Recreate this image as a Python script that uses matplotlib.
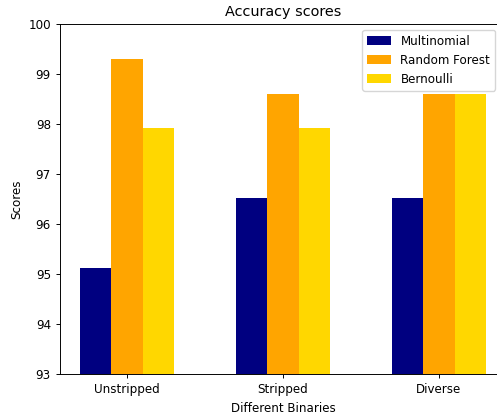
import matplotlib
matplotlib.use("Agg")
import matplotlib.pyplot as plt
import numpy as np

categories = ["Unstripped", "Stripped", "Diverse"]
multinomial = [95.12, 96.53, 96.53]
random_forest = [99.30, 98.60, 98.60]
bernoulli = [97.92, 97.92, 98.60]

s = 0.86
plt.rcParams["font.size"] = 10 * s
plt.rcParams["axes.titlesize"] = 12 * s
plt.rcParams["axes.linewidth"] = 0.8 * s
plt.rcParams["xtick.major.width"] = 0.8 * s
plt.rcParams["ytick.major.width"] = 0.8 * s
plt.rcParams["xtick.major.size"] = 3.5 * s
plt.rcParams["ytick.major.size"] = 3.5 * s

W, H = 497, 416
fig = plt.figure(figsize=(W / 100, H / 100), dpi=100)
left, right, top, bottom = 60, 506, 24, 374
ax = fig.add_axes([left / W, 1 - bottom / H, (right - left) / W, (bottom - top) / H])

x = np.arange(len(categories))
w = 0.2
ax.bar(x - w, multinomial, w, color="navy", label="Multinomial")
ax.bar(x, random_forest, w, color="orange", label="Random Forest")
ax.bar(x + w, bernoulli, w, color="gold", label="Bernoulli")

ax.set_ylim(93, 100)
ax.set_xticks(x)
ax.set_xticklabels(categories)
ax.set_title("Accuracy scores")
ax.set_xlabel("Different Binaries")
ax.set_ylabel("Scores")
ax.legend(loc="upper right", bbox_to_anchor=(495 / W, 1 - 30 / H), bbox_transform=fig.transFigure, borderaxespad=0)

fig.savefig("out.png", dpi=100)
